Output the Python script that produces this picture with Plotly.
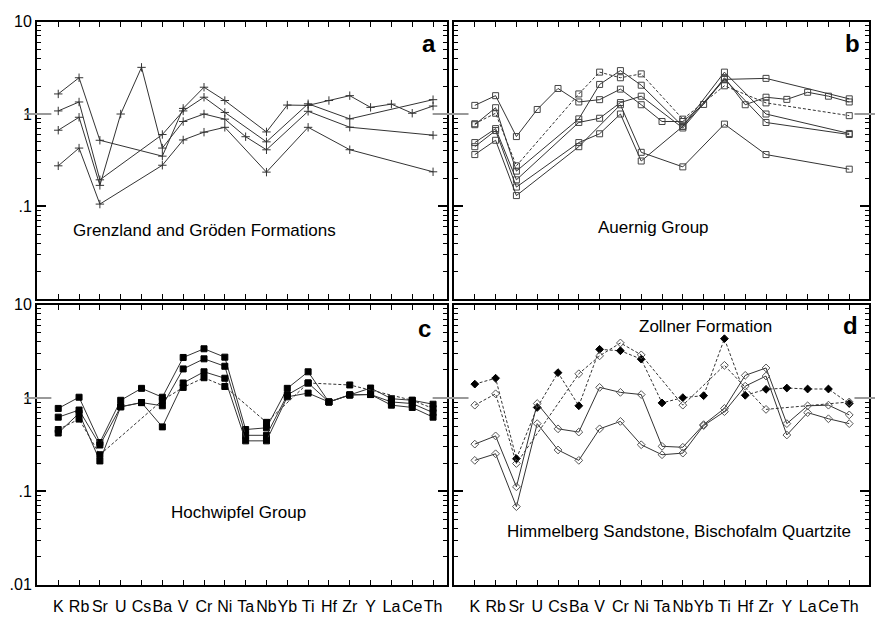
import plotly.graph_objects as go

elements = ["K", "Rb", "Sr", "U", "Cs", "Ba", "V", "Cr", "Ni", "Ta", "Nb", "Yb", "Ti", "Hf", "Zr", "Y", "La", "Ce", "Th"]
N = None

# Panel a: Grenzland and Gröden Formations
a1 = [1.65, 2.47, 0.52, N, N, 0.35, 1.15, 1.95, 1.40, N, 0.64, 1.25, 1.24, 1.40, 1.58, 1.18, 1.28, 1.02, 1.22]
a2 = [1.08, 1.35, 0.194, N, N, 0.60, 1.08, 1.52, 1.04, N, 0.50, N, 1.29, N, 0.886, N, N, N, 1.43]
a3 = [0.668, 0.922, 0.169, 1.0, 3.2, 0.428, 0.83, 1.0, 0.88, 0.568, 0.41, N, 1.07, N, 0.72, N, N, N, 0.59]
a4 = [0.275, 0.428, 0.106, N, N, 0.279, 0.524, 0.636, 0.718, N, 0.235, N, 0.718, N, 0.411, N, N, N, 0.237]

# Panel b: Auernig Group
b1 = [1.24, 1.58, 0.57, 1.12, 1.89, 1.35, 1.43, 1.86, 1.26, 0.83, 0.83, 1.27, 2.47, 1.26, 1.52, 1.44, 1.72, 1.56, 1.35]
b2 = [0.785, 1.02, 0.275, N, N, 1.65, 2.84, 2.47, 2.72, N, 0.88, N, 2.02, N, 1.32, N, N, N, 0.96]
b3 = [0.766, 1.17, 0.241, N, N, 0.886, 2.09, 2.95, 2.05, N, 0.736, N, 2.84, N, 1.0, N, N, N, 0.616]
b4 = [0.491, 0.695, 0.194, N, N, 0.811, 0.90, 1.33, 1.56, N, 0.706, N, 2.37, N, 2.43, N, N, N, 1.46]
b5 = [0.443, 0.662, 0.162, N, N, 0.491, 0.611, 1.0, 0.31, N, 0.736, N, 2.4, N, 0.81, N, N, N, 0.6]
b6 = [0.364, 0.52, 0.131, N, N, 0.443, N, 1.26, 0.385, N, 0.268, N, 0.778, N, 0.364, N, N, N, 0.253]

# Panel c: Hochwipfel Group
c1 = [0.774, 1.02, 0.334, 0.946, 1.27, 1.02, 2.72, 3.37, 2.74, 0.46, 0.48, 1.27, 1.91, 0.908, 1.08, 1.28, 0.984, 0.946, 0.859]
c2 = [0.624, 0.744, 0.314, 0.806, 0.894, 0.826, 2.05, 2.63, 2.19, 0.399, 0.399, 1.08, 1.45, 0.908, 1.08, 1.09, 0.908, 0.873, 0.698]
c3 = [0.422, 0.687, 0.212, 0.806, 0.894, 0.491, 1.45, 1.91, 1.63, 0.348, 0.348, 1.03, 1.13, 0.908, 1.08, 1.09, 0.839, 0.793, 0.624]
c4 = [0.46, 0.595, 0.247, N, N, 0.946, 1.30, 1.65, 1.33, N, 0.549, N, 1.45, N, 1.38, N, N, 0.946, 0.774]

# Panel d: Zollner Formation (d1, d2), Himmelberg Sandstone / Bischofalm Quartzite (d3, d4)
d1 = [1.41, 1.63, 0.224, 0.793, 1.87, 0.826, 3.32, 3.21, 2.61, 0.887, 1.01, 1.06, 4.32, 1.07, 1.24, 1.28, 1.25, 1.25, 0.873]
d2 = [0.839, 1.11, 0.199, N, N, 1.82, 2.83, 3.89, 2.90, N, 0.839, N, 2.24, N, 0.756, N, N, N, 0.908]
d3 = [0.321, 0.393, 0.112, 0.873, 0.468, 0.432, 1.30, 1.15, 1.09, 0.304, 0.297, 0.519, 0.774, 1.75, 2.10, 0.532, 0.826, 0.839, 0.66]
d4 = [0.215, 0.253, 0.0687, 0.532, 0.278, 0.215, 0.468, 0.562, 0.316, 0.247, 0.257, 0.507, 0.715, 1.34, 1.72, 0.402, 0.698, 0.60, 0.532]

FONT = "Liberation Sans, Arial, sans-serif"
fig = go.Figure()


def add(series, ax, symbol, dashed=False, size=6, mcolor="#333", lcolor="#333"):
    fig.add_trace(go.Scatter(
        x=elements, y=series, xaxis="x" + ax, yaxis="y" + ax,
        mode="lines+markers", connectgaps=True, showlegend=False,
        line=dict(color=lcolor, width=1, dash="3px,2px" if dashed else "solid"),
        marker=dict(symbol=symbol, size=size, color=mcolor,
                    line=dict(color=mcolor, width=1)),
    ))


for s in [a1, a2, a3, a4]:
    add(s, "", "cross-thin", size=6)
for i, s in enumerate([b1, b2, b3, b4, b5, b6]):
    add(s, "2", "square-open", dashed=(i == 1), size=6, mcolor="#444")
for i, s in enumerate([c1, c2, c3, c4]):
    add(s, "3", "square", dashed=(i == 3), size=6, mcolor="#000")
add(d1, "4", "diamond", dashed=True, size=6, mcolor="#000")
add(d2, "4", "diamond-open", dashed=True, size=6, mcolor="#555")
add(d3, "4", "diamond-open", size=6, mcolor="#555")
add(d4, "4", "diamond-open", size=6, mcolor="#555")

W, H = 875, 622
left_dom = [37 / W, 447 / W]
right_dom = [454 / W, 869 / W]
top_dom = [1 - 299 / H, 1 - 14 / H]
bot_dom = [1 - 593 / H, 1 - 305 / H]

minor_vals = [m * 10 ** e for e in (-2, -1, 0) for m in range(2, 10)]


def xax(dom, anchor, labels, rng):
    return dict(domain=dom, anchor=anchor, type="category", range=rng,
                showline=True, linewidth=2, linecolor="black", mirror="ticks",
                ticks="inside", ticklen=5, tickwidth=1, tickcolor="black",
                showgrid=False, zeroline=False, showticklabels=labels,
                ticklabelstandoff=6, tickangle=0,
                tickfont=dict(family=FONT, size=16, color="black"))


def yax(dom, anchor, labels, vals):
    return dict(domain=dom, anchor=anchor, type="log", range=[-2, 1],
                showline=True, linewidth=2, linecolor="black", mirror="ticks",
                ticks="inside", ticklen=9, tickwidth=1.5, tickcolor="black",
                tickvals=vals, ticktext=[{0.01: ".01", 0.1: ".1", 1: "1", 10: "10"}[v] for v in vals],
                minor=dict(tickvals=minor_vals, ticks="inside", ticklen=4, tickcolor="black", tickwidth=1),
                showgrid=False, zeroline=False, showticklabels=labels,
                tickfont=dict(family=FONT, size=16, color="black"))


fig.update_layout(
    width=W, height=H, margin=dict(l=0, r=0, t=0, b=0),
    paper_bgcolor="white", plot_bgcolor="white",
    font=dict(family=FONT, color="black"),
    xaxis=xax(left_dom, "y", False, [-1.02, 18.67]),
    yaxis=yax(top_dom, "x", True, [0.1, 1, 10]),
    xaxis2=xax(right_dom, "y2", False, [-1.0, 18.95]),
    yaxis2=yax(top_dom, "x2", False, [0.1, 1, 10]),
    xaxis3=xax(left_dom, "y3", True, [-1.02, 18.67]),
    yaxis3=yax(bot_dom, "x3", True, [0.01, 0.1, 1, 10]),
    xaxis4=xax(right_dom, "y4", True, [-1.0, 18.95]),
    yaxis4=yax(bot_dom, "x4", False, [0.01, 0.1, 1, 10]),
)

# grey reference marks at 1 crossing the frame
shapes = []
for ax in ["", "2", "3", "4"]:
    for x0, x1 in [(-0.03, 0.035), (0.965, 1.015)]:
        shapes.append(dict(type="line", xref="x" + ax + " domain", yref="y" + ax,
                           x0=x0, x1=x1, y0=1, y1=1, line=dict(color="#999", width=2)))
fig.update_layout(shapes=shapes)


def ann(text, x, y, size=17, bold=False):
    fig.add_annotation(x=x / W, y=1 - y / H, xref="paper", yref="paper",
                       xanchor="center", yanchor="middle",
                       text="<b>%s</b>" % text if bold else text, showarrow=False,
                       font=dict(family=FONT, size=size, color="black"))


ann("a", 429, 36, size=24, bold=True)
ann("b", 852, 36, size=24, bold=True)
ann("c", 424, 329, size=24, bold=True)
ann("d", 850, 326, size=24, bold=True)
ann("Grenzland and Gröden Formations", 204, 229)
ann("Auernig Group", 653, 226)
ann("Hochwipfel Group", 238, 519)
ann("Zollner Formation", 705, 327)
ann("Himmelberg Sandstone, Bischofalm Quartzite", 679, 538)

fig.write_html("out.html")
